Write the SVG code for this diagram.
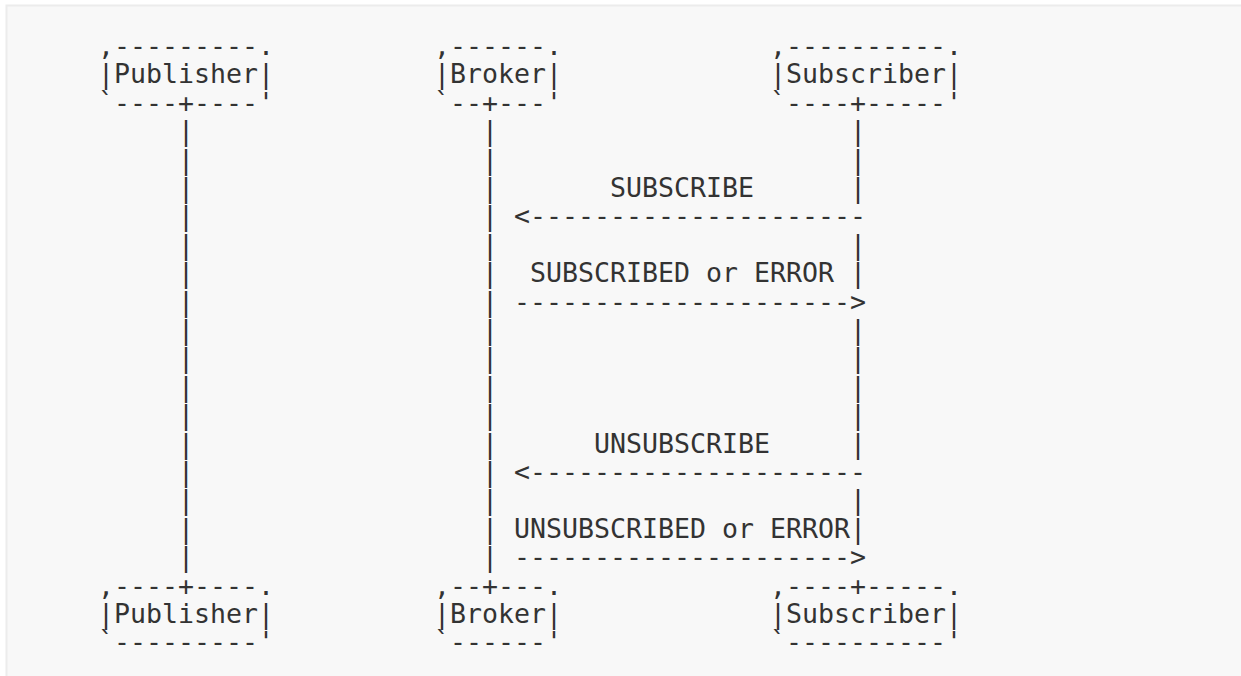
<svg xmlns="http://www.w3.org/2000/svg" width="1241" height="676" viewBox="0 0 1241 676">
<style>
text{font-family:"DejaVu Sans Mono","Liberation Mono",monospace;font-size:26.58px;fill:#333333;white-space:pre}
</style>
<rect x="0" y="0" width="1241" height="676" fill="#ffffff"/>
<rect x="6.5" y="5.5" width="1250" height="690" fill="#f8f8f8" stroke="#ececec" stroke-width="2"/>
<g id="node-publisher-top">
<text x="98" y="55">,---------.</text>
<text x="98" y="83.4">|Publisher|</text>
<text x="98" y="111.8">`----+----'</text>
</g>
<g id="node-broker-top">
<text x="434" y="55">,------.</text>
<text x="434" y="83.4">|Broker|</text>
<text x="434" y="111.8">`--+---'</text>
</g>
<g id="node-subscriber-top">
<text x="770" y="55">,----------.</text>
<text x="770" y="83.4">|Subscriber|</text>
<text x="770" y="111.8">`----+-----'</text>
</g>
<g id="node-publisher-bottom">
<text x="98" y="594.6">,----+----.</text>
<text x="98" y="623">|Publisher|</text>
<text x="98" y="651.4">`---------'</text>
</g>
<g id="node-broker-bottom">
<text x="434" y="594.6">,--+---.</text>
<text x="434" y="623">|Broker|</text>
<text x="434" y="651.4">`------'</text>
</g>
<g id="node-subscriber-bottom">
<text x="770" y="594.6">,----+-----.</text>
<text x="770" y="623">|Subscriber|</text>
<text x="770" y="651.4">`----------'</text>
</g>
<g id="connectors">
<g id="lifeline-publisher">
<text x="178" y="140.2">|</text><text x="178" y="168.6">|</text><text x="178" y="197">|</text><text x="178" y="225.4">|</text>
<text x="178" y="253.8">|</text><text x="178" y="282.2">|</text><text x="178" y="310.6">|</text><text x="178" y="339">|</text>
<text x="178" y="367.4">|</text><text x="178" y="395.8">|</text><text x="178" y="424.2">|</text><text x="178" y="452.6">|</text>
<text x="178" y="481">|</text><text x="178" y="509.4">|</text><text x="178" y="537.8">|</text><text x="178" y="566.2">|</text>
</g>
<g id="lifeline-broker">
<text x="482" y="140.2">|</text><text x="482" y="168.6">|</text><text x="482" y="197">|</text><text x="482" y="225.4">|</text>
<text x="482" y="253.8">|</text><text x="482" y="282.2">|</text><text x="482" y="310.6">|</text><text x="482" y="339">|</text>
<text x="482" y="367.4">|</text><text x="482" y="395.8">|</text><text x="482" y="424.2">|</text><text x="482" y="452.6">|</text>
<text x="482" y="481">|</text><text x="482" y="509.4">|</text><text x="482" y="537.8">|</text><text x="482" y="566.2">|</text>
</g>
<g id="lifeline-subscriber">
<text x="850" y="140.2">|</text><text x="850" y="168.6">|</text><text x="850" y="197">|</text>
<text x="850" y="253.8">|</text><text x="850" y="282.2">|</text><text x="850" y="339">|</text>
<text x="850" y="367.4">|</text><text x="850" y="395.8">|</text><text x="850" y="424.2">|</text><text x="850" y="452.6">|</text>
<text x="850" y="509.4">|</text><text x="850" y="537.8">|</text>
</g>
<g id="msg-subscribe">
<text x="514" y="225.4">&lt;---------------------</text>
</g>
<g id="msg-subscribed">
<text x="514" y="310.6">---------------------&gt;</text>
</g>
<g id="msg-unsubscribe">
<text x="514" y="481">&lt;---------------------</text>
</g>
<g id="msg-unsubscribed">
<text x="514" y="566.2">---------------------&gt;</text>
</g>
</g>
<g id="labels">
<text x="610" y="197">SUBSCRIBE</text>
<text x="530" y="282.2">SUBSCRIBED or ERROR</text>
<text x="594" y="452.6">UNSUBSCRIBE</text>
<text x="514" y="537.8">UNSUBSCRIBED or ERROR</text>
</g>
</svg>
